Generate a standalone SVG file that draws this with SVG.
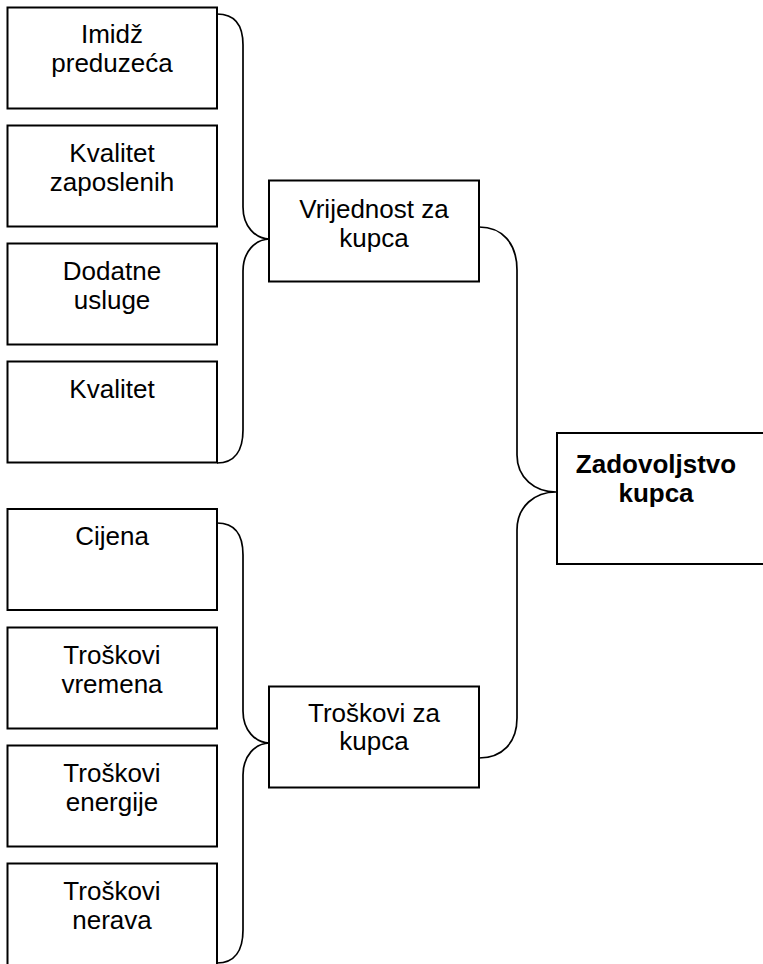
<svg xmlns="http://www.w3.org/2000/svg" width="763" height="964" viewBox="0 0 763 964">
<style>
.box{fill:#fff;stroke:#000;stroke-width:2}
.t{font-family:"Liberation Sans",Arial,sans-serif;font-size:26px;text-anchor:middle;fill:#000}
.b{font-weight:bold}
.c{fill:none;stroke:#000;stroke-width:1.7}
</style>
<rect width="763" height="964" fill="#fff"/>
<g id="connectors">
<path class="c" d="M217,14 C235,14 243,25 243,45 L243,207 C243,226 255,239 270,239 C255,239 243,252 243,271 L243,430 C243,450 235,463 217,463"/>
<path class="c" d="M479,227 C502,227 517,243 517,270 L517,455 C517,478 535,492 556,492 C535,492 517,506 517,530 L517,718 C517,743 502,758 479,758"/>
<path class="c" d="M217,523 C235,523 243,535 243,555 L243,711 C243,730 255,743 270,743 C255,743 243,756 243,775 L243,930 C243,950 235,963 217,963"/>
</g>
<g id="imidz"><rect class="box" x="7.5" y="7.5" width="209.5" height="101"/><text class="t" x="112" y="43">Imidž</text><text class="t" x="112" y="72">preduzeća</text></g>
<g id="kvalitet-zaposlenih"><rect class="box" x="7.5" y="125.5" width="209.5" height="101"/><text class="t" x="112" y="162">Kvalitet</text><text class="t" x="112" y="191">zaposlenih</text></g>
<g id="dodatne-usluge"><rect class="box" x="7.5" y="243.5" width="209.5" height="101"/><text class="t" x="112" y="280">Dodatne</text><text class="t" x="112" y="309">usluge</text></g>
<g id="kvalitet"><rect class="box" x="7.5" y="361.5" width="209.5" height="101"/><text class="t" x="112" y="398">Kvalitet</text></g>
<g id="cijena"><rect class="box" x="7.5" y="509" width="209.5" height="101"/><text class="t" x="112" y="545">Cijena</text></g>
<g id="troskovi-vremena"><rect class="box" x="7.5" y="627.5" width="209.5" height="101"/><text class="t" x="112" y="664">Troškovi</text><text class="t" x="112" y="693">vremena</text></g>
<g id="troskovi-energije"><rect class="box" x="7.5" y="745.5" width="209.5" height="101"/><text class="t" x="112" y="782">Troškovi</text><text class="t" x="112" y="811">energije</text></g>
<g id="troskovi-nerava"><rect class="box" x="7.5" y="863.5" width="209.5" height="103"/><text class="t" x="112" y="900">Troškovi</text><text class="t" x="112" y="929">nerava</text></g>
<g id="vrijednost"><rect class="box" x="269" y="180.5" width="210" height="101"/><text class="t" x="374" y="218">Vrijednost za</text><text class="t" x="374" y="247">kupca</text></g>
<g id="troskovi-kupca"><rect class="box" x="269" y="686.5" width="210" height="101"/><text class="t" x="374" y="722">Troškovi za</text><text class="t" x="374" y="750">kupca</text></g>
<g id="zadovoljstvo"><rect class="box" x="557" y="433" width="212" height="131"/><text class="t b" x="656" y="473">Zadovoljstvo</text><text class="t b" x="656" y="502">kupca</text></g>
</svg>
